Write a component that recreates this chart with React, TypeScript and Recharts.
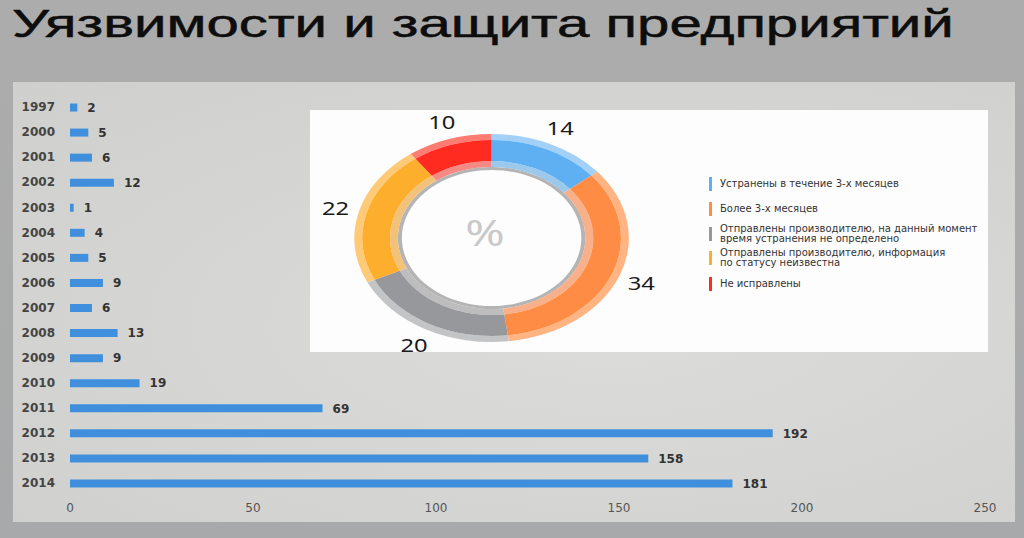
import React from 'react';
import { BarChart, Bar, XAxis, YAxis, LabelList, PieChart, Pie, Cell, Label } from 'recharts';

const years = ['1997', '2000', '2001', '2002', '2003', '2004', '2005', '2006', '2007', '2008', '2009', '2010', '2011', '2012', '2013', '2014'];
const counts = [2, 5, 6, 12, 1, 4, 5, 9, 6, 13, 9, 19, 69, 192, 158, 181];
const xTicks = [0, 50, 100, 150, 200, 250];

const statusNames = [
  'Устранены в течение 3-х месяцев',
  'Более 3-х месяцев',
  'Отправлены производителю, на данный момент время устранения не определено',
  'Отправлены производителю, информация по статусу неизвестна',
  'Не исправлены',
];
const statusShares = [14, 34, 20, 22, 10];

// colours
const mainColors = ['#5eb0f2', '#ff8c44', '#96989b', '#fdae2c', '#ff2a20'];
const edgeColors = ['#a2d0f6', '#ffb482', '#c3c4c6', '#ffca78', '#ff7c72'];
const innerColors = ['#9cc8ec', '#f7b08a', '#bdbdbd', '#f2c27a', '#f58a84'];

const barData = years.map((year, i) => ({ year, count: counts[i] }));
const pieData = statusNames.map((name, i) => ({ name, value: statusShares[i] }));

const RAD = Math.PI / 180;

const renderShare = (props: any) => {
  const { cx, cy, midAngle, outerRadius, value } = props;
  const r = outerRadius + 24;
  const x = cx + r * Math.cos(-midAngle * RAD);
  const y = cy + r * Math.sin(-midAngle * RAD);
  return (
    <text x={x} y={y} textAnchor="middle" dominantBaseline="central" fill="#1a1a1a" fontSize={18} fontFamily="Noto Sans">
      {value}
    </text>
  );
};

const legendLines = (name: string) => {
  // split long names into two rows like the original legend
  if (name.startsWith('Отправлены производителю, на')) return ['Отправлены производителю, на данный момент', 'время устранения не определено'];
  if (name.startsWith('Отправлены производителю, инф')) return ['Отправлены производителю, информация', 'по статусу неизвестна'];
  return [name];
};

const legendTops = [177, 202, 224, 248, 277];

export default function App() {
  return (
    <div style={{ position: 'absolute', left: 0, top: 0, width: 1024, height: 538, overflow: 'hidden', background: 'linear-gradient(180deg, #acacac 0%, #a8a9aa 100%)', fontFamily: 'Noto Sans' }}>
      <div style={{ position: 'absolute', left: 13, top: 82, width: 1002, height: 440, background: 'radial-gradient(ellipse at 60% 55%, #dcdcda 0%, #d4d4d2 60%, #cfcfcd 100%)' }} />
      <div style={{ position: 'absolute', left: 12, top: 2, fontSize: 38, lineHeight: '44px', color: '#0d0d0d', whiteSpace: 'nowrap', fontFamily: 'Liberation Sans', WebkitTextStroke: '0.5px #0d0d0d', transform: 'scaleX(1.53)', transformOrigin: 'left top' }}>
        Уязвимости и защита предприятий
      </div>

      <div style={{ position: 'absolute', left: 0, top: 82 }}>
        <BarChart width={1024} height={440} data={barData} layout="vertical" margin={{ top: 12.5, right: 39, bottom: 0, left: 0 }}>
          <XAxis type="number" domain={[0, 250]} ticks={xTicks} axisLine={false} tickLine={false} tickSize={0} tickMargin={8} height={26.5}
            tick={{ fill: '#555', fontSize: 12, fontFamily: 'DejaVu Sans' }} />
          <YAxis type="category" dataKey="year" width={70} axisLine={false} tickLine={false} tickSize={0} tickMargin={15}
            tick={{ fill: '#444', fontSize: 12, fontWeight: 'bold', fontFamily: 'DejaVu Sans' }} />
          <Bar dataKey="count" fill="#3f8fdc" barSize={8} isAnimationActive={false}>
            <LabelList dataKey="count" position="right" offset={10} fill="#333" fontSize={12} fontWeight="bold" fontFamily="DejaVu Sans" />
          </Bar>
        </BarChart>
      </div>

      <div style={{ position: 'absolute', left: 310, top: 110, width: 678, height: 242, background: '#fdfdfd' }} />

      <div style={{ position: 'absolute', left: 334.5, top: 103, transform: 'scaleX(1.32)', transformOrigin: 'center center' }}>
        <PieChart width={300} height={260}>
          <Pie data={[{ value: 1 }]} dataKey="value" cx={150} cy={130} innerRadius={68} outerRadius={71} fill="#b4b4b4" stroke="none" isAnimationActive={false} />
          <Pie data={pieData} dataKey="value" cx={150} cy={130} innerRadius={71} outerRadius={77} startAngle={90} endAngle={-270} stroke="none" isAnimationActive={false}>
            {pieData.map((d, i) => <Cell key={d.name} fill={innerColors[i]} />)}
          </Pie>
          <Pie data={pieData} dataKey="value" cx={150} cy={130} innerRadius={98} outerRadius={104} startAngle={90} endAngle={-270} stroke="none" isAnimationActive={false}>
            {pieData.map((d, i) => <Cell key={d.name} fill={edgeColors[i]} />)}
          </Pie>
          <Pie data={pieData} dataKey="value" cx={150} cy={130} innerRadius={77} outerRadius={98} startAngle={90} endAngle={-270} stroke="none"
            label={renderShare} labelLine={false} isAnimationActive={false}>
            {pieData.map((d, i) => <Cell key={d.name} fill={mainColors[i]} />)}
            <Label value="%" position="center" fill="#c9c9c9" fontSize={36} fontFamily="Noto Sans" />
          </Pie>
        </PieChart>
      </div>

      {pieData.map((d, i) => {
        const lines = legendLines(d.name);
        return (
          <div key={d.name} style={{ position: 'absolute', left: 709, top: legendTops[i], display: 'flex', alignItems: 'center' }}>
            <div style={{ width: 3, height: 14, background: mainColors[i], marginRight: 8 }} />
            <div style={{ fontSize: 10, lineHeight: '10px', color: '#333', whiteSpace: 'nowrap', fontFamily: 'DejaVu Sans' }}>
              {lines.map((l) => <div key={l}>{l}</div>)}
            </div>
          </div>
        );
      })}
    </div>
  );
}
